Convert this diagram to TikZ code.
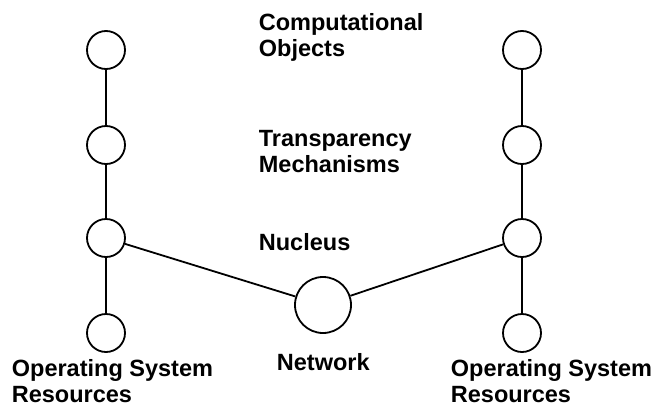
\documentclass[tikz,border=0pt]{standalone}
\usepackage{fontspec}
\setmainfont{Liberation Sans}
\usetikzlibrary{positioning}

\begin{document}
\begin{tikzpicture}[
  x=1pt, y=-1pt,
  line width=1.8pt,
  layer/.style={circle, draw, minimum size=38pt, inner sep=0pt},
  net/.style={circle, draw, minimum size=56pt, inner sep=0pt},
  lbl/.style={anchor=base west, align=left, inner sep=0pt, font=\fontsize{23.5}{26}\selectfont\bfseries}
]
\useasboundingbox (0,0) rectangle (655,407);

% left stack
\node[layer] (l1) at (106,50) {};
\node[layer] (l2) at (106,145) {};
\node[layer] (l3) at (106,238) {};
\node[layer] (l4) at (106,333) {};

% right stack
\node[layer] (r1) at (522,50) {};
\node[layer] (r2) at (522,145) {};
\node[layer] (r3) at (522,238) {};
\node[layer] (r4) at (522,333) {};

\node[net] (nw) at (323,305) {};

\draw (l1) -- (l2) -- (l3) -- (l4);
\draw (r1) -- (r2) -- (r3) -- (r4);
\draw (l3) -- (nw) -- (r3);

% labels (base = last line)
\node[lbl] (comp) at (258,56) {Computational\\Objects};
\node[lbl] (transp) at (258,172) {Transparency\\Mechanisms};
\node[lbl] (nuc) at (258,250) {Nucleus};
\node[lbl] (netlbl) at (276,370) {Network};
\node[lbl] (osl) at (11,402) {Operating System\\Resources};
\node[lbl] (osr) at (450,402) {Operating System\\Resources};
\end{tikzpicture}
\end{document}
